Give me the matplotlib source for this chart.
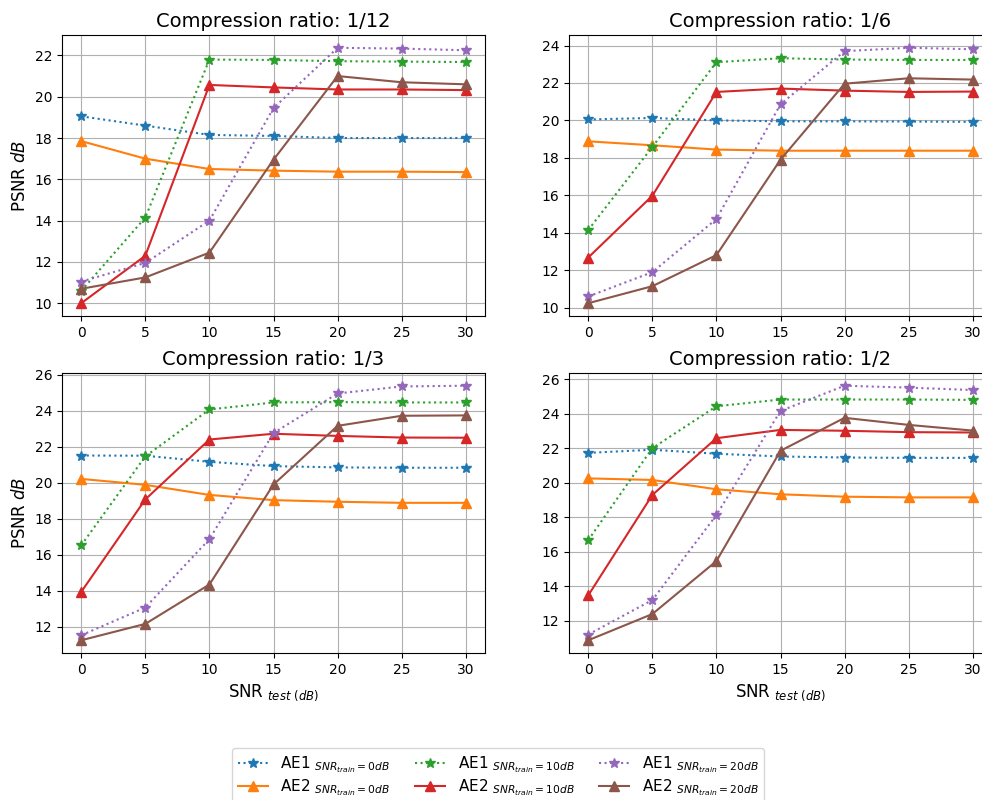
import matplotlib
matplotlib.use("Agg")
import matplotlib.pyplot as plt

snr_test = [0, 5, 10, 15, 20, 25, 30]
titles = ["Compression ratio: 1/12", "Compression ratio: 1/6",
          "Compression ratio: 1/3", "Compression ratio: 1/2"]

# per panel: AE1_0, AE2_0, AE1_10, AE2_10, AE1_20, AE2_20
r12_ae1_0 = [19.05, 18.6, 18.15, 18.1, 18.0, 18.0, 18.0]
r12_ae2_0 = [17.85, 17.0, 16.5, 16.42, 16.37, 16.37, 16.35]
r12_ae1_10 = [10.6, 14.15, 21.8, 21.78, 21.72, 21.7, 21.68]
r12_ae2_10 = [10.0, 12.3, 20.57, 20.45, 20.35, 20.35, 20.32]
r12_ae1_20 = [11.05, 11.95, 14.0, 19.45, 22.37, 22.33, 22.25]
r12_ae2_20 = [10.7, 11.25, 12.45, 16.95, 21.0, 20.7, 20.6]

r6_ae1_0 = [20.05, 20.13, 20.0, 19.95, 19.95, 19.94, 19.92]
r6_ae2_0 = [18.88, 18.67, 18.44, 18.38, 18.38, 18.38, 18.38]
r6_ae1_10 = [14.14, 18.58, 23.11, 23.32, 23.25, 23.23, 23.23]
r6_ae2_10 = [12.67, 15.97, 21.52, 21.7, 21.59, 21.52, 21.54]
r6_ae1_20 = [10.59, 11.89, 14.73, 20.86, 23.7, 23.88, 23.8]
r6_ae2_20 = [10.23, 11.14, 12.8, 17.9, 21.96, 22.25, 22.18]

r3_ae1_0 = [21.51, 21.5, 21.16, 20.92, 20.85, 20.83, 20.83]
r3_ae2_0 = [20.21, 19.88, 19.32, 19.03, 18.94, 18.88, 18.88]
r3_ae1_10 = [16.52, 21.46, 24.07, 24.46, 24.48, 24.46, 24.46]
r3_ae2_10 = [13.93, 19.07, 22.4, 22.72, 22.6, 22.51, 22.5]
r3_ae1_20 = [11.52, 13.06, 16.86, 22.76, 24.96, 25.35, 25.39]
r3_ae2_20 = [11.24, 12.15, 14.34, 19.9, 23.16, 23.72, 23.74]

r2_ae1_0 = [21.74, 21.92, 21.69, 21.53, 21.47, 21.45, 21.45]
r2_ae2_0 = [20.26, 20.17, 19.63, 19.34, 19.2, 19.16, 19.16]
r2_ae1_10 = [16.68, 22.01, 24.44, 24.83, 24.83, 24.83, 24.81]
r2_ae2_10 = [13.48, 19.3, 22.59, 23.07, 23.02, 22.94, 22.92]
r2_ae1_20 = [11.21, 13.21, 18.14, 24.17, 25.63, 25.52, 25.38]
r2_ae2_20 = [10.88, 12.4, 15.47, 21.86, 23.77, 23.36, 23.03]

panels = [
    [r12_ae1_0, r12_ae2_0, r12_ae1_10, r12_ae2_10, r12_ae1_20, r12_ae2_20],
    [r6_ae1_0, r6_ae2_0, r6_ae1_10, r6_ae2_10, r6_ae1_20, r6_ae2_20],
    [r3_ae1_0, r3_ae2_0, r3_ae1_10, r3_ae2_10, r3_ae1_20, r3_ae2_20],
    [r2_ae1_0, r2_ae2_0, r2_ae1_10, r2_ae2_10, r2_ae1_20, r2_ae2_20],
]

labels = [r"AE1 $_{SNR_{train}=0dB}$", r"AE2 $_{SNR_{train}=0dB}$",
          r"AE1 $_{SNR_{train}=10dB}$", r"AE2 $_{SNR_{train}=10dB}$",
          r"AE1 $_{SNR_{train}=20dB}$", r"AE2 $_{SNR_{train}=20dB}$"]
colors = ["#1f77b4", "#ff7f0e", "#2ca02c", "#d62728", "#9467bd", "#8c564b"]
styles = [":", "-", ":", "-", ":", "-"]
markers = ["*", "^", "*", "^", "*", "^"]

W, H = 982, 800
fig = plt.figure(figsize=(W / 100, H / 100), dpi=100)

# axes pixel boxes: left, top, right, bottom
boxes = [(62, 35, 485, 316), (569, 35, 992, 316),
         (62, 373, 485, 653), (569, 373, 992, 653)]
yticks_list = [[10, 12, 14, 16, 18, 20, 22], [10, 12, 14, 16, 18, 20, 22, 24],
               [12, 14, 16, 18, 20, 22, 24, 26], [12, 14, 16, 18, 20, 22, 24, 26]]

handles = None
for i, (l, t, r, b) in enumerate(boxes):
    ax = fig.add_axes([l / W, 1 - b / H, (r - l) / W, (b - t) / H])
    hs = []
    for s, series in enumerate(panels[i]):
        h, = ax.plot(snr_test, series, linestyle=styles[s], marker=markers[s],
                     color=colors[s], markersize=7, linewidth=1.5, label=labels[s])
        hs.append(h)
    handles = hs
    ax.set_title(titles[i], fontsize=14)
    ax.grid(True)
    ax.set_xticks(snr_test)
    ax.set_yticks(yticks_list[i])
    if i % 2 == 0:
        ax.set_ylabel(r"PSNR $dB$", fontsize=12)
    if i >= 2:
        ax.set_xlabel(r"SNR $_{test\ (dB)}$", fontsize=12)

fig.legend(handles, labels, loc="upper center", bbox_to_anchor=(498 / W, 1 - 748 / H),
           ncol=3, fontsize=11, frameon=True, labelspacing=0.15,
           handlelength=2.0, columnspacing=1.6, borderaxespad=0.0)

fig.savefig("out.png", dpi=100)
